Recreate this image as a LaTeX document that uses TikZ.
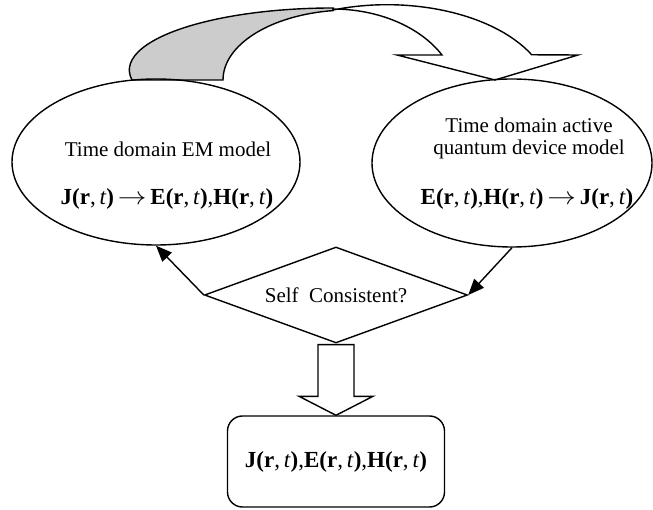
\documentclass[tikz,border=0pt]{standalone}
\usepackage{fontspec}
\setmainfont{Liberation Serif}
\usetikzlibrary{shapes.geometric,arrows.meta,calc}
\definecolor{bandgray}{RGB}{204,204,204}
\newcommand\fldJ{\textbf{J(r},\,\textit{t}\textbf{)}}
\newcommand\fldE{\textbf{E(r},\,\textit{t}\textbf{)}}
\newcommand\fldH{\textbf{H(r},\,\textit{t}\textbf{)}}
\newcommand\fldArr{\,\scalebox{1.15}[1]{$\rightarrow$}\,}
\begin{document}
\begin{tikzpicture}[x=1pt,y=1pt,
  every node/.style={font=\fontsize{21}{23}\selectfont},
  shp/.style={draw,line width=1.4pt},
  ell/.style={shp,ellipse,inner sep=0pt},
  conn/.style={line width=1.4pt,-{Triangle[length=16pt,width=13pt]}},
  txt/.style={inner sep=0pt,anchor=base},
  eq/.style={font=\fontsize{23}{25}\selectfont},
]
\useasboundingbox (0,0) rectangle (653,-510);

% curved block arrow (back band shaded, front band white)
\draw[line width=1.4pt,fill=bandgray]
  (132,-80) arc[start angle=189.3,end angle=90,x radius=204,y radius=62]
  -- (333,-10.6) arc[start angle=97.7,end angle=180,x radius=127,y radius=70]
  -- cycle;
\draw[line width=1.4pt,fill=white]
  (333,-10) arc[start angle=109.4,end angle=27.5,x radius=163,y radius=93]
  -- (578,-55) -- (495,-80) -- (397,-55) -- (442,-55)
  arc[start angle=29.3,end angle=90,x radius=125,y radius=90]
  -- cycle;

% ellipses
\node[ell,minimum width=288,minimum height=166] (em) at (156,-162) {};
\node[ell,minimum width=280,minimum height=168] (qd) at (512,-163) {};

\node[txt] (emt) at (168,-157) {Time domain EM model};
\node[txt,eq] (emf) at (167,-205) {\fldJ\fldArr\fldE,\fldH};
\node[txt] (qdt1) at (529,-133) {Time domain active};
\node[txt] (qdt2) at (529,-155) {quantum device model};
\node[txt,eq] (qdf) at (527,-205) {\fldE,\fldH\fldArr\fldJ};

% decision
\node[shp,diamond,aspect=2.74,inner sep=0pt,minimum width=263,minimum height=96] (dia) at (336,-295) {Self\hspace{0.5em}Consistent?};

% result box
\node[shp,eq,rounded corners=15pt,minimum width=217,minimum height=91,inner sep=0pt] (out) at (336,-461.5) {\fldJ,\fldE,\fldH};

% connectors
\draw[conn] (dia.west) -- (em.south);
\draw[conn] (qd.south) -- (dia.east);

% block arrow down
\draw[shp,fill=white,line join=miter]
  ($(dia.south)+(-18,-1)$) -- ($(dia.south)+(18,-1)$)
  -- ($(out.north)+(18,19)$) -- ($(out.north)+(37,19)$)
  -- (out.north) -- ($(out.north)+(-37,19)$)
  -- ($(out.north)+(-18,19)$) -- cycle;
\end{tikzpicture}
\end{document}
